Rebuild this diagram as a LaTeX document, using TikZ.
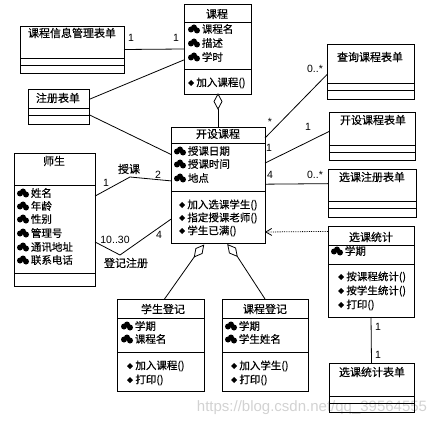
\documentclass[tikz,border=0pt]{standalone}
\usepackage{fontspec}
\setmainfont{Liberation Sans}
\newfontfamily\cjk[FakeBold=0.4]{Noto Sans CJK SC}
\usetikzlibrary{shapes.geometric,arrows.meta}

\begin{document}
\begin{tikzpicture}[
    x=1pt,
    y=-1pt,
    line width=0.8pt,
    font=\fontsize{10.5}{12}\selectfont,
    classbox/.style={draw, rectangle, inner sep=0pt, outer sep=0pt},
    rowtext/.style={anchor=west, inner sep=0pt, font=\fontsize{10.5}{12}\selectfont\cjk},
    titletext/.style={inner sep=0pt, font=\fontsize{11}{12}\selectfont\cjk},
    multlabel/.style={inner sep=0pt},
    hollowtip/.style={draw, fill=white, diamond, inner sep=0pt, outer sep=0pt,
        minimum width=8pt, minimum height=15pt},
    attricon/.pic={
        \fill (-3,0.5) circle[radius=3];
        \fill (0,-1.5) circle[radius=3];
        \fill (3,1.5) circle[radius=3];
    },
    methodicon/.pic={
        \fill (0,-3) -- (3,0) -- (0,3) -- (-3,0) -- cycle;
    }
]
\useasboundingbox (0,0) rectangle (443,427);

% Watermark
\node[inner sep=0pt, text=gray!35, font=\fontsize{15}{16}\selectfont] (watermark) at (312,408)
    {https://blog.csdn.net/qq\_39564555};

% Class boxes
\node[classbox, minimum width=67pt, minimum height=90pt] (kecheng) at (217.5,49) {};
\node[classbox, minimum width=104pt, minimum height=47pt] (kechengform) at (72,49.5) {};
\node[classbox, minimum width=61pt, minimum height=35pt] (zhuceform) at (58.5,106.5) {};
\node[classbox, minimum width=94pt, minimum height=116pt] (kaishe) at (218,185) {};
\node[classbox, minimum width=81pt, minimum height=133pt] (shisheng) at (54.5,219.5) {};
\node[classbox, minimum width=87pt, minimum height=55pt] (chaxunform) at (370.5,71.5) {};
\node[classbox, minimum width=86pt, minimum height=48pt] (kaisheform) at (372,136) {};
\node[classbox, minimum width=88pt, minimum height=48pt] (xuankeform) at (372,193) {};
\node[classbox, minimum width=86pt, minimum height=91pt] (tongji) at (371,271.5) {};
\node[classbox, minimum width=85pt, minimum height=49pt] (tongjiform) at (371.5,387.5) {};
\node[classbox, minimum width=87pt, minimum height=92pt] (xuesheng) at (160.5,345) {};
\node[classbox, minimum width=86pt, minimum height=92pt] (dengji) at (265,345) {};

% Compartment lines
\foreach \n/\y in {kecheng/22, kecheng/69, kechengform/58, kechengform/65,
    zhuceform/108, zhuceform/115, kaishe/143, kaishe/191, shisheng/185, shisheng/273,
    chaxunform/83, chaxunform/90, kaisheform/145, kaisheform/152,
    xuankeform/201, xuankeform/208, tongji/245, tongji/264,
    tongjiform/396, tongjiform/403, xuesheng/318, xuesheng/352, dengji/318, dengji/352}
    \draw (\n.west |- 0,\y) -- (\n.east |- 0,\y);

% Titles
\node[titletext] (t1) at (217,14) {课程};
\node[titletext] (t2) at (72,33) {课程信息管理表单};
\node[titletext] (t3) at (58,98) {注册表单};
\node[titletext] (t4) at (218,134) {开设课程};
\node[titletext] (t5) at (54,161) {师生};
\node[titletext] (t6) at (370,57) {查询课程表单};
\node[titletext] (t7) at (373,120) {开设课程表单};
\node[titletext] (t8) at (372,177) {选课注册表单};
\node[titletext] (t9) at (371,237) {选课统计};
\node[titletext] (t10) at (372,372) {选课统计表单};
\node[titletext] (t11) at (163,309) {学生登记};
\node[titletext] (t12) at (265,309) {课程登记};

% Attributes
\foreach \x/\y/\t in {194/29/课程名, 194/43/描述, 194/57/学时,
    180/151/授课日期, 180/164/授课时间, 180/178/地点,
    23/193/姓名, 23/206/年龄, 23/219/性别, 23/233/管理号, 23/247/通讯地址, 23/260/联系电话,
    127/326/学期, 127/339/课程名, 231/326/学期, 231/339/学生姓名, 337/251/学期} {
    \pic at (\x,\y) {attricon};
    \node[rowtext] (attr-\x-\y) at (\x+7.5,\y) {\t};
}

% Operations
\foreach \x/\y/\t in {191/83/加入课程(),
    182/205/加入选课学生(), 182/218/指定授课老师(), 182/231/学生已满(),
    130/366/加入课程(), 130/380/打印(), 234/366/加入学生(), 234/380/打印(),
    341/277/按课程统计(), 341/291/按学生统计(), 341/305/打印()} {
    \pic at (\x,\y) {methodicon};
    \node[rowtext] (op-\x-\y) at (\x+5,\y) {\t};
}

% Plain associations
\draw (kechengform.east) -- (kecheng.west);
\draw (zhuceform.13.8) -- (kecheng.198);
\draw (zhuceform.-15.6) -- (kaishe.147.4);
\draw (kaishe.45) -- (chaxunform.184.6);
\draw (kaishe.25) -- (kaisheform.174.7);
\draw (kaishe.1) -- (xuankeform.168.4);
\draw (tongji.south) -- (tongjiform.north);

% Associations with a bend
\coordinate (shoukebend) at (130,177);
\coordinate (dengjibend) at (120,255);
\draw (shisheng.30.1) -- (shoukebend) -- (kaishe.175);
\draw (shisheng.-29) -- (dengjibend) -- (kaishe.216);

% Dependency
\draw[densely dotted, -{Straight Barb[length=6pt,width=7pt]}] (tongji.137.4) -- (kaishe.-45);

% Aggregations
\node[hollowtip, anchor=south] (kechengtip) at (218,109) {};
\draw (kechengtip.south) -- (kaishe.north);
\node[hollowtip, rotate=-38.7] (xueshengtip) at (199,251) {};
\draw (xueshengtip.south) -- (xuesheng.85.6);
\node[hollowtip, rotate=39] (dengjitip) at (232.5,250.5) {};
\draw (dengjitip.south) -- (dengji.north);

% Multiplicities
\node[multlabel] (m1) at (131,38) {1};
\node[multlabel] (m2) at (176,38) {1};
\node[multlabel] (m3) at (270,122) {*};
\node[multlabel] (m4) at (269,148) {1};
\node[multlabel] (m5) at (270,175) {4};
\node[multlabel] (m6) at (315,69) {0..*};
\node[multlabel] (m7) at (308,127) {1};
\node[multlabel] (m8) at (315,175) {0..*};
\node[multlabel] (m9) at (106,183) {1};
\node[multlabel] (m10) at (158,175) {2};
\node[multlabel] (m11) at (115,240) {10..30};
\node[multlabel] (m12) at (159,235) {4};
\node[multlabel] (m13) at (378,327) {1};
\node[multlabel] (m14) at (378,355) {1};

% Association names
\node[titletext] (shouke) at (129,169) {授课};
\node[titletext] (dengjizhuce) at (126,263) {登记注册};

\end{tikzpicture}
\end{document}
